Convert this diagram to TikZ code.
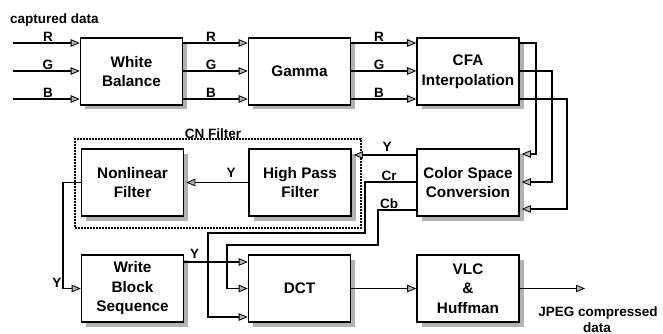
\documentclass[tikz,border=0pt]{standalone}
\usepackage{fontspec}
\setmainfont{Liberation Sans}
\usetikzlibrary{arrows.meta,shadows,calc}
\begin{document}
\begin{tikzpicture}[x=1pt,y=-1pt,
  blk/.style={draw=black, line width=1.6pt, fill=white, minimum width=102pt, minimum height=67pt, inner sep=0pt, align=center,
    font=\fontsize{15.3}{19.5}\selectfont\bfseries,
    drop shadow={shadow xshift=4.5pt, shadow yshift=-4.5pt, fill=gray!60, opacity=1}},
  wire/.style={line width=1.8pt},
  arr/.style={wire, -{Triangle[length=9pt,width=7.5pt,line width=0.8pt,fill=gray!60]}},
  lbl/.style={font=\fontsize{13.5}{16}\selectfont\bfseries, inner sep=0pt, anchor=base},
  dotbox/.style={draw, line width=1.9pt, dash pattern=on 1.6pt off 1.4pt}
]
\useasboundingbox (0,0) rectangle (663,334);

% CN filter frame
\node[dotbox, minimum width=286pt, minimum height=89pt, inner sep=0pt] (cn) at (218,183.5) {};
\node[lbl] (cnl) at (213,138) {CN Filter};

% blocks
\node[blk] (wb) at (131.5,71.5) {White\\Balance};
\node[blk] (gamma) at (299.5,71.5) {Gamma};
\node[blk] (cfa) at (468,71.5) {CFA\\Interpolation};
\node[blk] (nl) at (132.5,182.5) {Nonlinear\\Filter};
\node[blk] (hp) at (300,182.5) {High Pass\\Filter};
\node[blk] (csc) at (468,182.5) {Color Space\\Conversion};
\node[blk] (wbs) at (132.5,288.5) {Write\\Block\\Sequence};
\node[blk] (dct) at (299.5,288.5) {DCT};
\node[blk] (vlc) at (468,288.5) {VLC\\\&\\Huffman};

% coordinates
\coordinate (inR) at (13,43);
\coordinate (inG) at (13,71);
\coordinate (inB) at (13,99);
\coordinate (cR) at (536,154);
\coordinate (cG) at (552,182);
\coordinate (cB) at (567,209);
\coordinate (lvY) at (0,155);
\coordinate (lvCr) at (0,182);
\coordinate (lvCb) at (0,210);
\coordinate (lvWY) at (0,262);
\coordinate (lvD) at (0,317);
\coordinate (nlc) at (63,182.5);
\coordinate (out) at (585,288.5);

% inputs
\node[lbl, anchor=base west] (cap) at (10,24) {captured data};
\draw[arr] (inR) -- (inR -| wb.west);
\draw[arr] (inG) -- (inG -| wb.west);
\draw[arr] (inB) -- (inB -| wb.west);
\node[lbl] (l1) at (48,41.5) {R};
\node[lbl] (l2) at (48,69.5) {G};
\node[lbl] (l3) at (48,97.5) {B};

% WB -> Gamma
\draw[arr] (wb.east |- inR) -- (gamma.west |- inR);
\draw[arr] (wb.east |- inG) -- (gamma.west |- inG);
\draw[arr] (wb.east |- inB) -- (gamma.west |- inB);
\node[lbl] (l4) at (211,41.5) {R};
\node[lbl] (l5) at (211,69.5) {G};
\node[lbl] (l6) at (211,97.5) {B};

% Gamma -> CFA
\draw[arr] (gamma.east |- inR) -- (cfa.west |- inR);
\draw[arr] (gamma.east |- inG) -- (cfa.west |- inG);
\draw[arr] (gamma.east |- inB) -- (cfa.west |- inB);
\node[lbl] (l7) at (379,41.5) {R};
\node[lbl] (l8) at (379,69.5) {G};
\node[lbl] (l9) at (379,97.5) {B};

% CFA -> CSC
\draw[arr] (cfa.east |- inR) -| (cR) -- ($(csc.east |- cR)+(2,0)$);
\draw[arr] (cfa.east |- inG) -| (cG) -- ($(csc.east |- cG)+(2,0)$);
\draw[arr] (cfa.east |- inB) -| (cB) -- ($(csc.east |- cB)+(2,0)$);

% CSC outputs
\draw[arr] (csc.west |- lvY) -- ($(hp.east |- lvY)+(2,0)$);
\node[lbl] (l10) at (387,151) {Y};
\draw[arr] (csc.west |- lvCr) -| (365,233) -| (208,317) -- (dct.west |- lvD);
\node[lbl] (l11) at (389,180) {Cr};
\draw[arr] (csc.west |- lvCb) -| (378,245) -| (227,288.5) -- (dct.west);
\node[lbl] (l12) at (389,208) {Cb};

% HP -> NL
\draw[arr] (hp.west) -- ($(nl.east)+(2,0)$);
\node[lbl] (l13) at (231,177.5) {Y};

% NL -> WBS
\draw[arr] (nl.west) -- (nlc) |- (wbs.west);
\node[lbl] (l14) at (57,287) {Y};

% WBS -> DCT
\draw[arr] (wbs.east |- lvWY) -- (dct.west |- lvWY);
\node[lbl] (l15) at (194.5,258) {Y};

% DCT -> VLC -> out
\draw[arr] (dct.east) -- (vlc.west);
\draw[arr] (vlc.east) -- (out);
\node[lbl] (j1) at (598,316) {JPEG compressed};
\node[lbl] (j2) at (597,332.5) {data};
\end{tikzpicture}
\end{document}
